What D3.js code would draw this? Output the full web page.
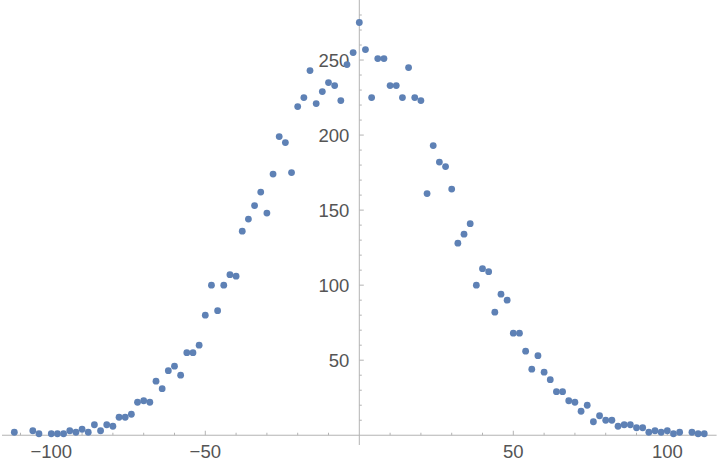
<!DOCTYPE html>
<html>
<head>
<meta charset="utf-8">
<script src="https://cdn.jsdelivr.net/npm/d3@7"></script>
<style>
  html, body { margin: 0; padding: 0; background: #fff; }
  svg { display: block; }
  .tick-label { font-family: "Liberation Sans", Arial, sans-serif; font-size: 18.5px; fill: #555; }
</style>
</head>
<body>
<svg id="chart" width="720" height="465"></svg>
<script>
// bin centres and their counts (tally)
const xValues = [-112, -106, -104, -100, -98, -96, -94, -92, -90, -88, -86, -84, -82, -80, -78, -76, -74, -72, -70, -68,
  -66, -64, -62, -60, -58, -56, -54, -52, -50, -48, -46, -44, -42, -40, -38, -36, -34, -32, -30, -28,
  -26, -24, -22, -20, -18, -16, -14, -12, -10, -8, -6, -4, -2, 0, 2, 4, 6, 8, 10, 12,
  14, 16, 18, 20, 22, 24, 26, 28, 30, 32, 34, 36, 38, 40, 42, 44, 46, 48, 50, 52,
  54, 56, 58, 60, 62, 64, 66, 68, 70, 72, 74, 76, 78, 80, 82, 84, 86, 88, 90, 92,
  94, 96, 98, 100, 102, 104, 108, 110, 112];
const counts = [2, 3, 1, 1, 1, 1, 3, 2, 4, 2, 7, 3, 7, 6, 12, 12, 14, 22, 23, 22,
  36, 31, 43, 46, 40, 55, 55, 60, 80, 100, 83, 100, 107, 106, 136, 144, 153, 162, 148, 174,
  199, 195, 175, 219, 225, 243, 221, 229, 235, 233, 223, 247, 255, 275, 257, 225, 251, 251, 233, 233,
  225, 245, 225, 223, 161, 193, 182, 179, 164, 128, 134, 141, 100, 111, 109, 82, 94, 90, 68, 68,
  56, 44, 53, 42, 37, 29, 29, 23, 22, 16, 20, 9, 13, 10, 10, 6, 7, 7, 5, 5,
  2, 3, 2, 3, 1, 2, 2, 1, 1];

const xMajor = [-100, -50, 50, 100];
const xMinor = [-110, -90, -80, -70, -60, -40, -30, -20, -10, 10, 20, 30, 40, 60, 70, 80, 90, 110];
const yMajor = [50, 100, 150, 200, 250];
const yMinor = [10, 20, 30, 40, 60, 70, 80, 90, 110, 120, 130, 140, 160, 170, 180, 190, 210, 220, 230, 240, 260, 270, 280];

const data = xValues.map((x, i) => ({ x, y: counts[i] }));

const svg = d3.select("#chart");

const x = d3.scaleLinear().domain([-116, 116]).range([2, 716.6]);
const y = d3.scaleLinear().domain([-6.5, 290]).range([445, 0]);

const axisColor = "#b3b3b3";
const fmt = d => d < 0 ? "\u2212" + Math.abs(d) : String(d);

// x axis
const gx = svg.append("g");
gx.append("line")
  .attr("x1", x.range()[0]).attr("x2", x.range()[1])
  .attr("y1", y(0)).attr("y2", y(0))
  .attr("stroke", axisColor).attr("stroke-width", 1);
gx.selectAll("line.major").data(xMajor).join("line")
  .attr("class", "major")
  .attr("x1", d => x(d)).attr("x2", d => x(d))
  .attr("y1", y(0)).attr("y2", y(0) - 4.5)
  .attr("stroke", axisColor);
gx.selectAll("line.minor").data(xMinor).join("line")
  .attr("class", "minor")
  .attr("x1", d => x(d)).attr("x2", d => x(d))
  .attr("y1", y(0)).attr("y2", y(0) - 2.5)
  .attr("stroke", axisColor);
gx.selectAll("text").data(xMajor).join("text")
  .attr("class", "tick-label")
  .attr("x", d => x(d)).attr("y", y(0) + 22.5)
  .attr("text-anchor", "middle")
  .text(fmt);

// y axis
const gy = svg.append("g");
gy.append("line")
  .attr("x1", x(0)).attr("x2", x(0))
  .attr("y1", y.range()[0]).attr("y2", y.range()[1])
  .attr("stroke", axisColor).attr("stroke-width", 1);
gy.selectAll("line.major").data(yMajor).join("line")
  .attr("class", "major")
  .attr("x1", x(0)).attr("x2", x(0) + 4.5)
  .attr("y1", d => y(d)).attr("y2", d => y(d))
  .attr("stroke", axisColor);
gy.selectAll("line.minor").data(yMinor).join("line")
  .attr("class", "minor")
  .attr("x1", x(0)).attr("x2", x(0) + 2.5)
  .attr("y1", d => y(d)).attr("y2", d => y(d))
  .attr("stroke", axisColor);
gy.selectAll("text").data(yMajor).join("text")
  .attr("class", "tick-label")
  .attr("x", x(0) - 10).attr("y", d => y(d))
  .attr("dy", "0.36em")
  .attr("text-anchor", "end")
  .text(fmt);

// points
svg.append("g")
  .attr("fill", "#5e81b5")
  .selectAll("circle")
  .data(data)
  .join("circle")
  .attr("cx", d => x(d.x))
  .attr("cy", d => y(d.y))
  .attr("r", 3.4);
</script>
</body>
</html>
